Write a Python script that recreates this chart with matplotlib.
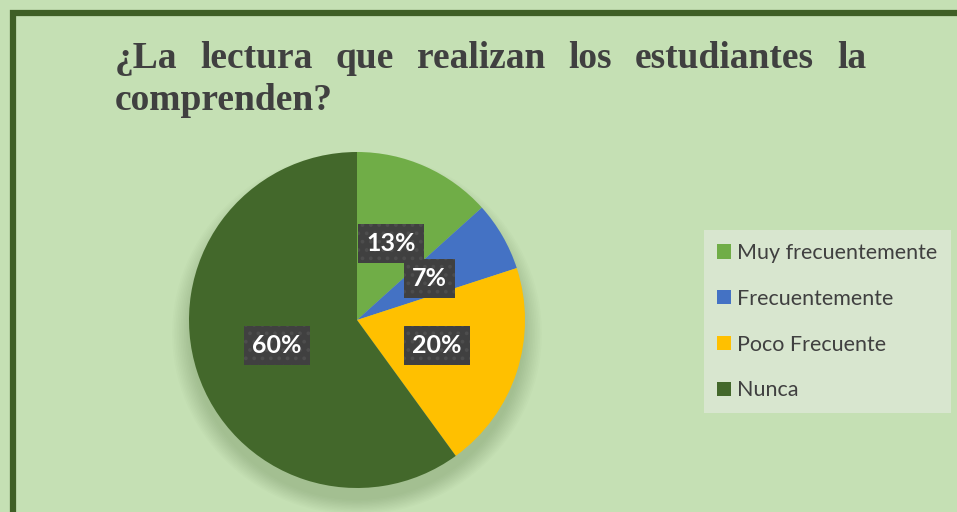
import matplotlib
matplotlib.use('Agg')
import matplotlib.pyplot as plt
from matplotlib.patches import Rectangle, Ellipse

# datos
categorias = ['Muy frecuentemente', 'Frecuentemente', 'Poco Frecuente', 'Nunca']
respuestas = [2, 1, 3, 9]
colores = ['#70ad47', '#4472c4', '#ffc000', '#43682b']
titulo_l1 = ['¿La', 'lectura', 'que', 'realizan', 'los', 'estudiantes', 'la']
titulo_l2 = 'comprenden?'

W, H = 957, 512
fig = plt.figure(figsize=(W / 100, H / 100), dpi=100)
fig.patch.set_facecolor('#c5e0b4')

# borde verde oscuro (solo arriba e izquierda visibles)
fig.patches.append(Rectangle((13 / W, -0.2), 1.2, (H - 13) / H + 0.2, transform=fig.transFigure,
                             fill=False, edgecolor='#3f5f26', linewidth=4.5))

# titulo justificado
fuente_t = dict(family='Liberation Serif', weight='bold', size=27, color='#404040')
x0, x1 = 115 / W, 866 / W
y1 = 1 - 68 / H
y2 = 1 - 110 / H
textos = [fig.text(0, y1, w, va='baseline', ha='left', **fuente_t) for w in titulo_l1]
fig.canvas.draw()
r = fig.canvas.get_renderer()
anchos = [t.get_window_extent(r).width / W for t in textos]
hueco = (x1 - x0 - sum(anchos)) / (len(textos) - 1)
x = x0
for t, a in zip(textos, anchos):
    t.set_x(x)
    x += a + hueco
fig.text(x0, y2, titulo_l2, va='baseline', ha='left', **fuente_t)

# pastel
cx, cy, rad = 357, 320, 168
half = 210
ax = fig.add_axes([(cx - half) / W, (H - cy - half) / H, 2 * half / W, 2 * half / H])
ax.set_xlim(-half / rad, half / rad)
ax.set_ylim(-half / rad, half / rad)
ax.set_aspect('equal')
ax.axis('off')

# sombra suave, hacia abajo
for k in range(12):
    ax.add_patch(Ellipse((0.0, -0.08), 1.98 + k * 0.02, 1.98 + k * 0.016, color='#5f7d4c',
                         alpha=0.028, lw=0, zorder=0))

plt.rcParams['hatch.color'] = '#4d4d4d'
plt.rcParams['hatch.linewidth'] = 1.5
wedges, _, autotexts = ax.pie(respuestas, colors=colores, startangle=90, counterclock=False,
                              autopct=lambda p: '%d%%' % round(p), pctdistance=0.5,
                              wedgeprops=dict(linewidth=0), radius=1,
                              textprops=dict(color='white', weight='bold', family='Lato', size=18))
for w in wedges:
    w.set_zorder(2)

for t in autotexts:
    t.set_zorder(5)
    t.set_bbox(dict(boxstyle='square,pad=0.32', facecolor='#404040', edgecolor='#4d4d4d',
                    linewidth=0, hatch='..'))

# leyenda
handles = [Rectangle((0, 0), 1, 1, facecolor=c, edgecolor='none') for c in colores]
leg = fig.legend(handles, categorias, loc='upper left', bbox_to_anchor=(704 / W, 1 - 230 / H),
                 prop=dict(family='Lato', size=15.5), labelcolor='#404040',
                 frameon=True, fancybox=False, facecolor='#d8e6cf', edgecolor='none', framealpha=1,
                 handlelength=0.65, handleheight=0.65, handletextpad=0.3, labelspacing=1.2,
                 borderpad=0.6, borderaxespad=0)

fig.savefig('out.png', dpi=100, facecolor=fig.get_facecolor())
